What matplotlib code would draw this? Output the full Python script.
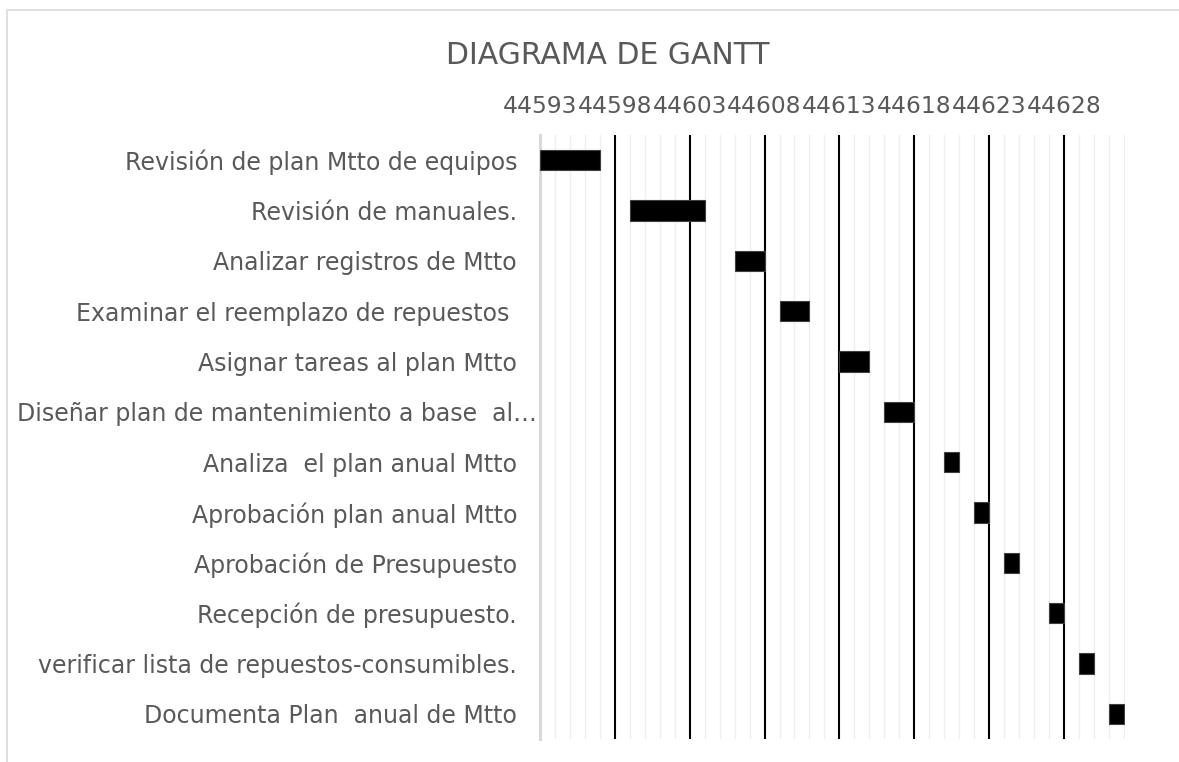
import matplotlib
matplotlib.use("Agg")
import matplotlib.pyplot as plt
from matplotlib.ticker import MultipleLocator, FixedLocator
from matplotlib.patches import Rectangle
from matplotlib.transforms import ScaledTranslation

tasks = [
    "Revisión de plan Mtto de equipos",
    "Revisión de manuales.",
    "Analizar registros de Mtto",
    "Examinar el reemplazo de repuestos ",
    "Asignar tareas al plan Mtto",
    "Diseñar plan de mantenimiento a base  al…",
    "Analiza  el plan anual Mtto",
    "Aprobación plan anual Mtto",
    "Aprobación de Presupuesto",
    "Recepción de presupuesto.",
    "verificar lista de repuestos-consumibles.",
    "Documenta Plan  anual de Mtto",
]
start = [44593, 44599, 44606, 44609, 44613, 44616, 44620, 44622, 44624, 44627, 44629, 44631]
duration = [4, 5, 2, 2, 2, 2, 1, 1, 1, 1, 1, 1]
tick_labels = [44593, 44598, 44603, 44608, 44613, 44618, 44623, 44628]
x_min, x_max = 44593, 44632

plt.rcParams['font.family'] = ['DejaVu Sans']
TXT = "#595959"

fig = plt.figure(figsize=(11.79, 7.62), dpi=100)
ax = fig.add_axes([540/1179, 1-739/762, 585/1179, 604/762])

ypos = list(range(len(tasks)))
ax.barh(ypos, duration, left=start, height=0.4, color="black",
        edgecolor="#404040", linewidth=0.8, zorder=3)

ax.set_xlim(x_min, x_max + 0.08)
ax.set_ylim(len(tasks) - 0.5, -0.5)
ax.set_yticks(ypos)
ax.set_yticklabels(tasks, fontsize=17, color=TXT)
ax.tick_params(axis='y', length=0, pad=16.5)
# the truncated long label reaches the axis in the reference
long_lbl = ax.get_yticklabels()[5]
long_lbl.set_transform(long_lbl.get_transform() + ScaledTranslation(20/100, 0, fig.dpi_scale_trans))

ax.xaxis.set_major_locator(FixedLocator(tick_labels))
ax.xaxis.set_minor_locator(MultipleLocator(1))
ax.set_xticklabels([str(t) for t in tick_labels], fontsize=16.8, color=TXT)
ax.xaxis.tick_top()
ax.tick_params(axis='x', which='both', length=0, pad=12.5)

ax.grid(which='minor', axis='x', color="#efefef", linewidth=1.0, zorder=0)
ax.grid(which='major', axis='x', color="black", linewidth=1.5, zorder=1)
ax.set_axisbelow(True)

for s in ['top', 'right', 'bottom']:
    ax.spines[s].set_visible(False)
ax.spines['left'].set_color("#d9d9d9")
ax.spines['left'].set_linewidth(2.2)
ax.spines['left'].set_zorder(2)

fig.text(608/1179, 1-56/762, "DIAGRAMA DE GANTT", fontsize=21.5, color=TXT,
         ha='center', va='center')

fig.patches.append(Rectangle((7/1179, -0.1), 1.2, 1.1 - 10/762, transform=fig.transFigure,
                             fill=False, edgecolor="#d9d9d9", linewidth=1.2))

fig.savefig("out.png", dpi=100)
